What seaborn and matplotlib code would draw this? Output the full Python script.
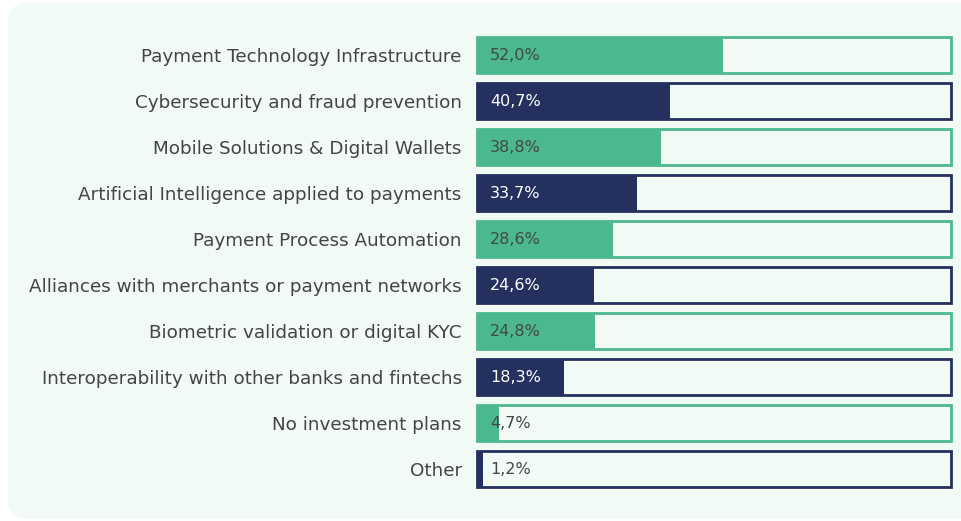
import matplotlib
matplotlib.use("Agg")
import matplotlib.pyplot as plt
from matplotlib.patches import FancyBboxPatch
import pandas as pd
import seaborn as sns

categories = [
    "Payment Technology Infrastructure",
    "Cybersecurity and fraud prevention",
    "Mobile Solutions & Digital Wallets",
    "Artificial Intelligence applied to payments",
    "Payment Process Automation",
    "Alliances with merchants or payment networks",
    "Biometric validation or digital KYC",
    "Interoperability with other banks and fintechs",
    "No investment plans",
    "Other",
]
values = [52.0, 40.7, 38.8, 33.7, 28.6, 24.6, 24.8, 18.3, 4.7, 1.2]
labels = ["52,0%", "40,7%", "38,8%", "33,7%", "28,6%", "24,6%", "24,8%", "18,3%", "4,7%", "1,2%"]

green = "#4cb890"
navy = "#24305e"
panel = "#f1faf5"
colors = [green if i % 2 == 0 else navy for i in range(len(categories))]

df = pd.DataFrame({"cat": categories, "val": values, "full": [100] * len(values)})

sns.set_style("white")
plt.rcParams["font.family"] = ["DejaVu Sans"]

fig = plt.figure(figsize=(9.62, 5.21), dpi=100)
fig.patch.set_facecolor("white")
# light panel behind the chart (in inches)
bg = FancyBboxPatch((0.08, 0.02), 12, 5.16,
                    boxstyle="round,pad=0,rounding_size=0.2",
                    transform=fig.dpi_scale_trans, facecolor=panel,
                    edgecolor="none", zorder=-10)
fig.patches.append(bg)

ax = fig.add_axes([477 / 962, 1 - 492 / 521, (951 - 477) / 962, 460 / 521])
ax.set_facecolor("none")
ax.set_zorder(5)

# outline boxes
sns.barplot(data=df, x="full", y="cat", hue="cat", palette=[panel] * len(values),
            saturation=1, legend=False, ax=ax, width=0.78, orient="h")
for p, c in zip(ax.patches, colors):
    p.set_edgecolor(c)
    p.set_linewidth(2)
    p.set_clip_on(False)
n = len(ax.patches)
# filled part
sns.barplot(data=df, x="val", y="cat", hue="cat", palette=colors,
            saturation=1, legend=False, ax=ax, width=0.78, orient="h")
for p in ax.patches[n:]:
    p.set_linewidth(0)
    p.set_clip_on(False)

for i, (lab, c) in enumerate(zip(labels, colors)):
    tc = "white" if (c == navy and values[i] > 5) else "#3f4a46"
    ax.text(2.7, i + 0.02, lab, va="center", ha="left", fontsize=11.5, color=tc)

ax.set_xlim(0, 100)
ax.set_ylim(9.5, -0.5)
ax.set_xlabel("")
ax.set_ylabel("")
ax.set_xticks([])
ax.tick_params(axis="y", length=0, pad=11, labelsize=13.2, labelcolor="#444444")
for t in ax.get_yticklabels():
    t.set_y(t.get_position()[1])
sns.despine(ax=ax, left=True, bottom=True)

fig.savefig("out.png", dpi=100)
